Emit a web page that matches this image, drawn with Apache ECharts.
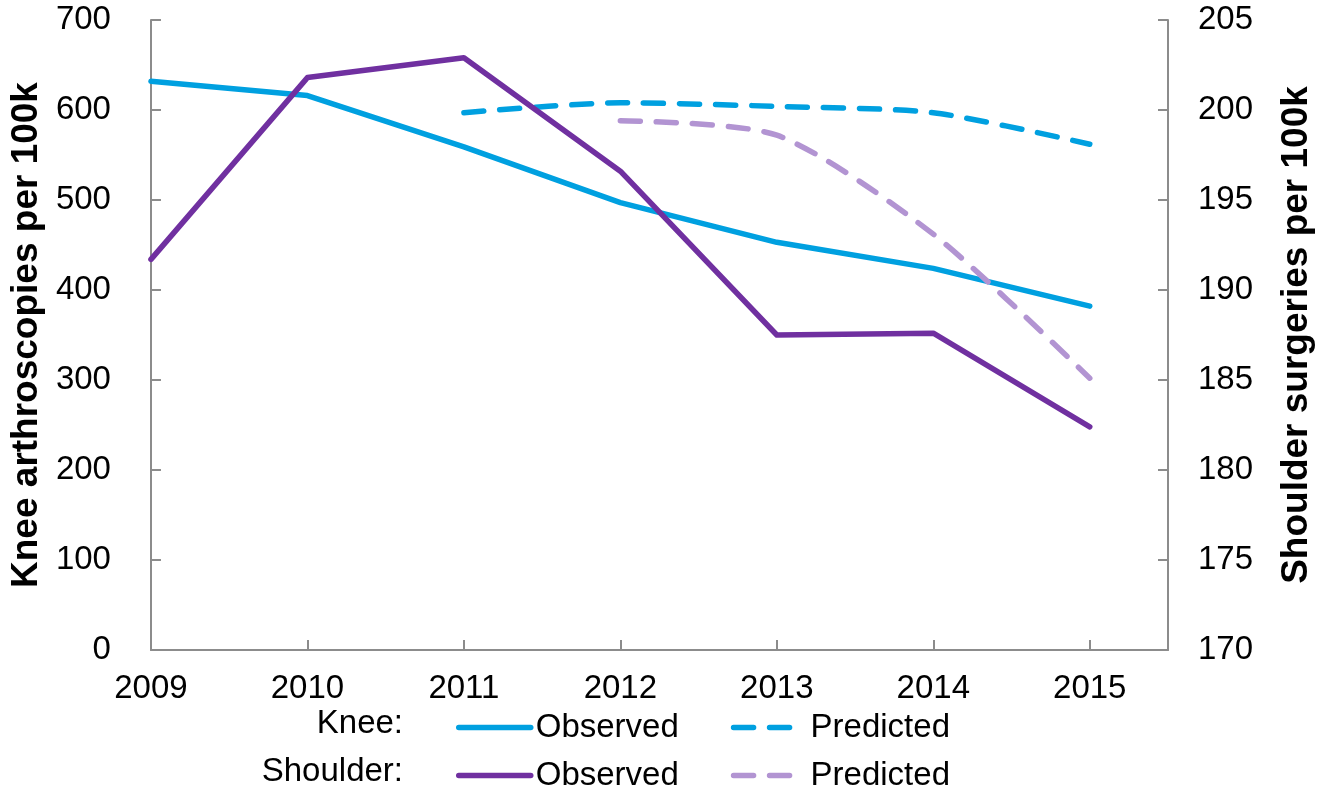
<!DOCTYPE html>
<html>
<head>
<meta charset="utf-8">
<script src="https://cdn.jsdelivr.net/npm/echarts@6/dist/echarts.min.js"></script>
<style>
html,body{margin:0;padding:0;background:#fff;}
#chart{width:1323px;height:789px;}
</style>
</head>
<body>
<div id="chart"></div>
<script>
const years = [2009, 2010, 2011, 2012, 2013, 2014, 2015];
const kneeObserved = [632, 616, 559, 497, 453, 424, 382];
const kneePredicted = [null, null, 597, 608, 604, 597, 562];
const shoulderObserved = [191.7, 201.8, 202.9, 196.6, 187.5, 187.6, 182.4];
const shoulderPredicted = [null, null, null, 199.4, 198.6, 193.1, 185.1];

const FONT = '"Liberation Sans", Arial, sans-serif';
const cyan = '#00A0E0';
const purple = '#7030A0';
const lilac = '#B294D2';
const axisGray = '#8c8c8c';
const LW = 5.5;

function pairs(vals) { return years.map((y, i) => [y, vals[i]]); }

const chart = echarts.init(document.getElementById('chart'));
const legendBase = {
  orient: 'horizontal',
  left: 451,
  itemWidth: 72,
  itemHeight: 20,
  itemGap: 52,
  itemStyle: { opacity: 0 },
  lineStyle: { width: LW },
  textStyle: { fontFamily: FONT, fontSize: 33, color: '#000' },
  formatter: n => n.split(' ')[1]
};
chart.setOption({
  animation: false,
  grid: { left: 147, right: 147, top: 20, bottom: 139, containLabel: false },
  legend: [
    Object.assign({}, legendBase, { top: 706, data: ['Knee Observed', 'Knee Predicted'] }),
    Object.assign({}, legendBase, { top: 754, data: ['Shoulder Observed', 'Shoulder Predicted'] })
  ],
  graphic: [
    { type: 'text', right: 1323 - 403, top: 707, style: { text: 'Knee:', font: '33px ' + FONT, fill: '#000' } },
    { type: 'text', right: 1323 - 403, top: 755, style: { text: 'Shoulder:', font: '33px ' + FONT, fill: '#000' } }
  ],
  xAxis: {
    type: 'value', min: 2009, max: 2015.5, interval: 1,
    axisLine: { show: true, lineStyle: { color: axisGray, width: 2 } },
    axisTick: { show: true, inside: true, length: 10, lineStyle: { color: axisGray, width: 2 } },
    splitLine: { show: false },
    axisLabel: {
      margin: 22, fontFamily: FONT, fontSize: 33, color: '#000',
      formatter: v => (Number.isInteger(v) ? String(v) : '')
    }
  },
  yAxis: [
    {
      type: 'value', min: 0, max: 700, interval: 100, position: 'left',
      name: 'Knee arthroscopies per 100k', nameLocation: 'middle', nameGap: 100, nameRotate: 90,
      nameTextStyle: { fontFamily: FONT, fontSize: 37, fontWeight: 'bold', color: '#000' },
      axisLine: { show: true, lineStyle: { color: axisGray, width: 2 } },
      axisTick: { show: true, inside: true, length: 10, lineStyle: { color: axisGray, width: 2 } },
      splitLine: { show: false },
      axisLabel: { margin: 40, fontFamily: FONT, fontSize: 33, color: '#000' }
    },
    {
      type: 'value', min: 170, max: 205, interval: 5, position: 'right',
      name: 'Shoulder surgeries per 100k', nameLocation: 'middle', nameGap: 110, nameRotate: 90,
      nameTextStyle: { fontFamily: FONT, fontSize: 37, fontWeight: 'bold', color: '#000' },
      axisLine: { show: true, lineStyle: { color: axisGray, width: 2 } },
      axisTick: { show: true, inside: true, length: 10, lineStyle: { color: axisGray, width: 2 } },
      splitLine: { show: false },
      axisLabel: { margin: 30, fontFamily: FONT, fontSize: 33, color: '#000' }
    }
  ],
  series: [
    {
      name: 'Knee Observed', type: 'line', yAxisIndex: 0, data: pairs(kneeObserved),
      showSymbol: false, symbol: 'none', color: cyan,
      lineStyle: { color: cyan, width: LW, cap: 'round', join: 'round' }
    },
    {
      name: 'Knee Predicted', type: 'line', yAxisIndex: 0, data: pairs(kneePredicted),
      showSymbol: false, symbol: 'none', smooth: 0.25, color: cyan,
      lineStyle: { color: cyan, width: LW, type: [20, 16], cap: 'round' }
    },
    {
      name: 'Shoulder Observed', type: 'line', yAxisIndex: 1, data: pairs(shoulderObserved),
      showSymbol: false, symbol: 'none', color: purple,
      lineStyle: { color: purple, width: LW, cap: 'round', join: 'round' }
    },
    {
      name: 'Shoulder Predicted', type: 'line', yAxisIndex: 1, data: pairs(shoulderPredicted),
      showSymbol: false, symbol: 'none', smooth: 0.25, color: lilac,
      lineStyle: { color: lilac, width: LW, type: [20, 16], cap: 'round' }
    }
  ]
});
</script>
</body>
</html>
